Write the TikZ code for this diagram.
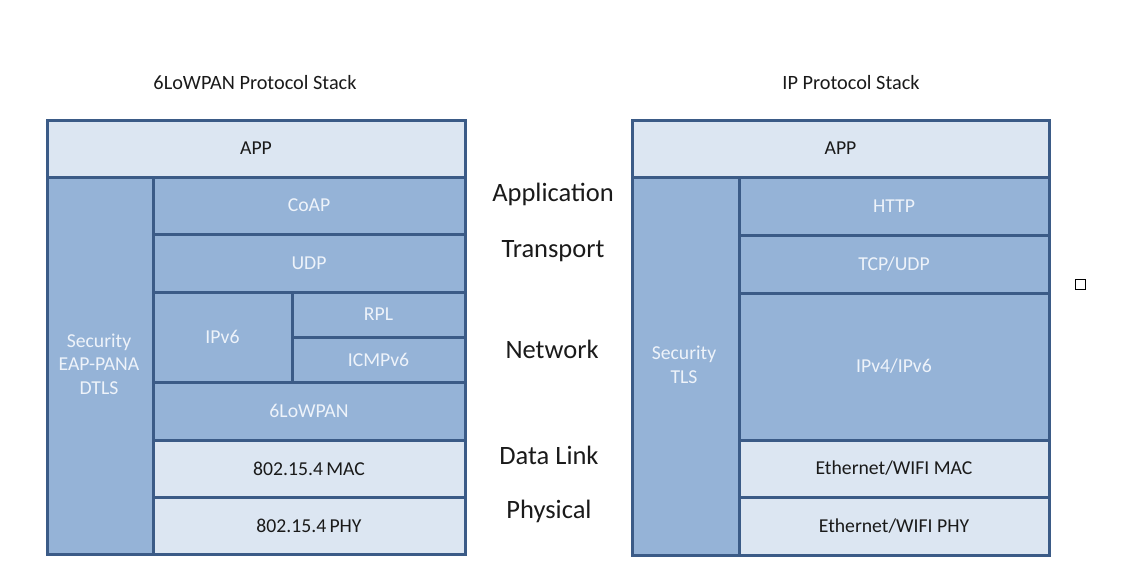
\documentclass[tikz,border=0pt]{standalone}
\usepackage{fontspec}
\setmainfont{Carlito}
\definecolor{lightfill}{HTML}{DCE6F2}
\definecolor{midfill}{HTML}{95B3D7}
\definecolor{edgeblue}{HTML}{3B5B87}
\definecolor{paletext}{HTML}{EEF3FA}
\definecolor{darktext}{HTML}{1A1A1A}
\begin{document}
\begin{tikzpicture}[x=1pt,y=-1pt,
  lightbox/.style={draw=edgeblue,line width=3pt,fill=lightfill},
  midbox/.style={draw=edgeblue,line width=3pt,fill=midfill},
  darklabel/.style={text=darktext,font=\fontsize{19.7}{23.5}\selectfont,inner sep=0pt,align=center},
  palelabel/.style={text=paletext,font=\fontsize{19.7}{23.5}\selectfont,inner sep=0pt,align=center},
  titlelabel/.style={text=darktext,font=\fontsize{20.3}{24}\selectfont,inner sep=0pt},
  layerlabel/.style={text=darktext,font=\fontsize{26.5}{31}\selectfont,inner sep=0pt}]
\useasboundingbox (0,0) rectangle (1142,576);
% titles
\node[titlelabel] (t1) at (255,83) {6LoWPAN Protocol Stack};
\node[titlelabel] (t2) at (851,83) {IP Protocol Stack};
% left stack
\draw[lightbox] (47,120) rectangle node[darklabel] (lapp) {APP} (465,177);
\draw[midbox] (47,177) rectangle (153,554);
\node[palelabel] (lsec) at (99,364) {Security\\EAP-PANA\\DTLS};
\draw[midbox] (153,177) rectangle node[palelabel] (coap) {CoAP} (465,234);
\draw[midbox] (153,234) rectangle node[palelabel] (udp) {UDP} (465,292);
\draw[midbox] (153,292) rectangle node[palelabel] (ipv6) {IPv6} (292,382);
\draw[midbox] (292,292) rectangle node[palelabel] (rpl) {RPL} (465,337);
\draw[midbox] (292,337) rectangle node[palelabel] (icmp) {ICMPv6} (465,382);
\draw[midbox] (153,382) rectangle node[palelabel] (lowpan) {6LoWPAN} (465,440);
\draw[lightbox] (153,440) rectangle node[darklabel] (lmac) {802.15.4\,MAC} (465,497);
\draw[lightbox] (153,497) rectangle node[darklabel] (lphy) {802.15.4\,PHY} (465,554);
% right stack
\draw[lightbox] (632,120) rectangle node[darklabel] (rapp) {APP} (1049,177);
\draw[midbox] (632,177) rectangle (739,555);
\node[palelabel] (rsec) at (684,365) {Security\\TLS};
\draw[midbox] (739,177) rectangle node[palelabel] (http) {HTTP} (1049,235);
\draw[midbox] (739,235) rectangle node[palelabel] (tcp) {TCP/UDP} (1049,293);
\draw[midbox] (739,293) rectangle node[palelabel] (ip) {IPv4/IPv6} (1049,440);
\draw[lightbox] (739,440) rectangle node[darklabel] (rmac) {Ethernet/WIFI MAC} (1049,497);
\draw[lightbox] (739,497) rectangle node[darklabel] (rphy) {Ethernet/WIFI PHY} (1049,555);
% layer names
\node[layerlabel] (lapplication) at (553,194) {Application};
\node[layerlabel] (ltransport) at (553,251) {Transport};
\node[layerlabel] (lnetwork) at (552,349) {Network};
\node[layerlabel] (ldatalink) at (549,455) {Data Link};
\node[layerlabel] (lphysical) at (549,511) {Physical};
% stray square
\draw[black,line width=1pt] (1075,279) rectangle (1085,289);
\end{tikzpicture}
\end{document}
